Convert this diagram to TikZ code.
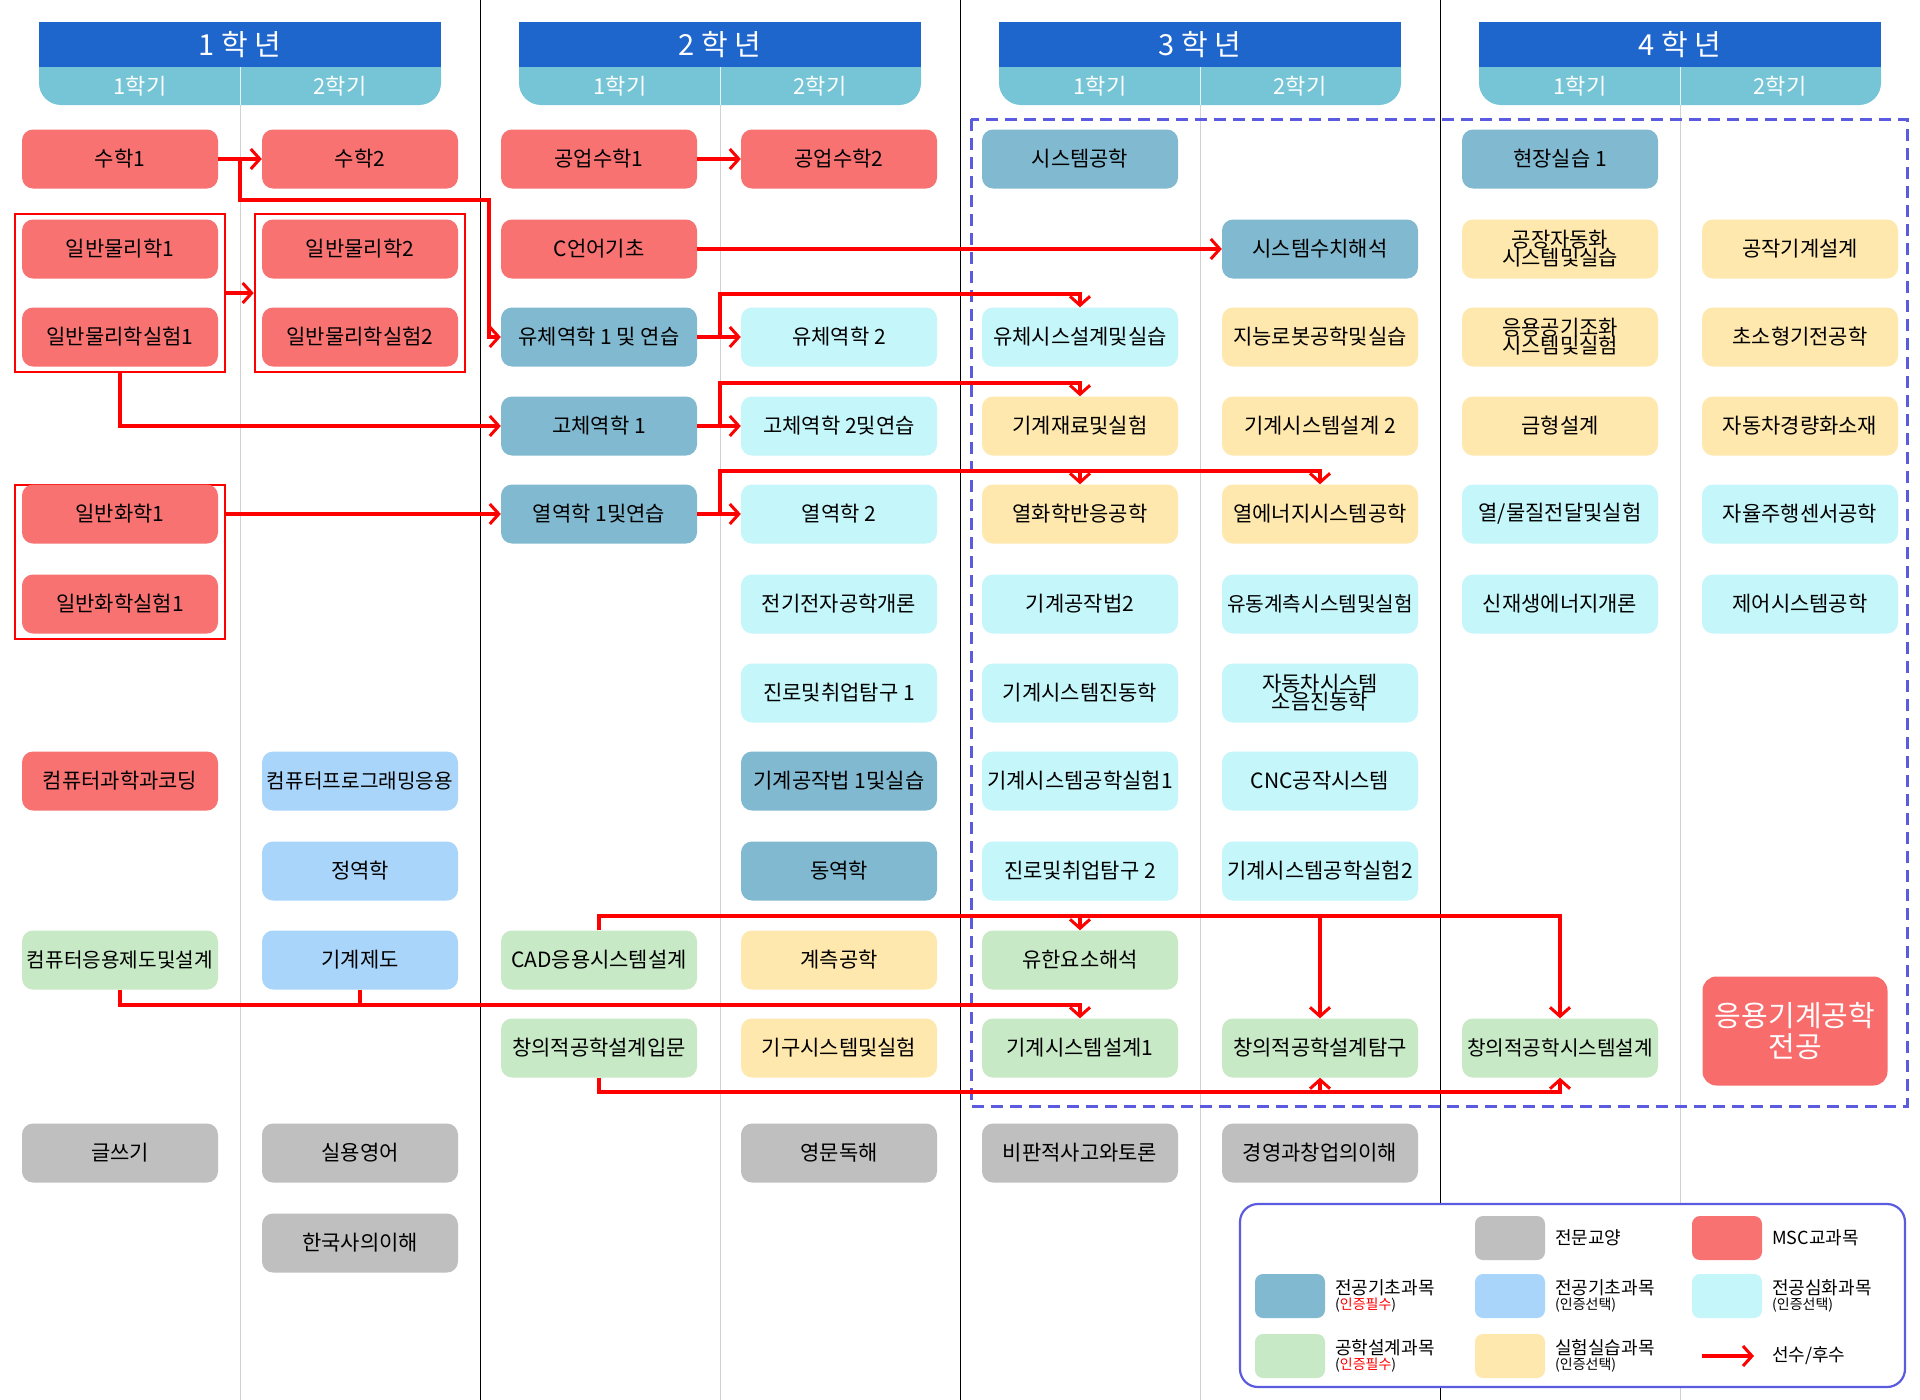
\documentclass[tikz,border=0pt]{standalone}
\usepackage{fontspec}
\usepackage{graphicx}
\setmainfont{Noto Sans CJK KR}
\usetikzlibrary{arrows.meta}
\definecolor{msc}{HTML}{F87272}
\definecolor{dblu}{HTML}{80B9D0}
\definecolor{lblu}{HTML}{AAD5FA}
\definecolor{cyn}{HTML}{C4F6FA}
\definecolor{grn}{HTML}{C7E9C6}
\definecolor{yel}{HTML}{FFE8AD}
\definecolor{gry}{HTML}{BFBFBF}
\definecolor{hblu}{HTML}{1F66CC}
\definecolor{hlt}{HTML}{75C5D7}
\definecolor{dashblu}{HTML}{5B5BE0}
\definecolor{arrred}{HTML}{FF0000}
\newcommand\fitw[1]{\sbox0{#1}\ifdim\wd0>186pt\resizebox{186pt}{!}{#1}\else#1\fi}
\tikzset{
 boxbase/.style={rounded corners=11pt, minimum width=196pt, minimum height=59pt, inner sep=0pt, align=center, font=\fontsize{21}{21}\selectfont},
 boxmsc/.style={boxbase, fill=msc}, boxdb/.style={boxbase, fill=dblu}, boxlb/.style={boxbase, fill=lblu},
 boxcy/.style={boxbase, fill=cyn}, boxgn/.style={boxbase, fill=grn}, boxye/.style={boxbase, fill=yel}, boxgr/.style={boxbase, fill=gry},
 redarr/.style={draw=arrred, line width=3.2pt, -{Straight Barb[length=9pt,width=20pt,line width=3pt]}},
 redln/.style={draw=arrred, line width=3.2pt},
 redgrp/.style={draw=arrred, line width=2.6pt, inner sep=0pt},
 legsw/.style={rounded corners=8pt, minimum width=70pt, minimum height=44pt, inner sep=0pt},
 legtxt/.style={anchor=west, align=left, inner sep=0pt, font=\fontsize{18}{18}\selectfont},
}
\newcommand\two[2]{#1\\[-3pt]#2}
\begin{document}
\begin{tikzpicture}[x=1pt,y=-1pt]
\useasboundingbox (0,0) rectangle (1920,1400);
\fill[white] (0,0) rectangle (1920,1400);
% column lines
\foreach \x in {240,720,1200,1680} \draw[gray!35, line width=0.8pt] (\x,105) -- (\x,1400);
\foreach \x in {480,960,1440} \draw[black, line width=1pt] (\x,0) -- (\x,1400);
% headers
\foreach \c/\t in {240/1,720/2,1200/3,1680/4}{
  \fill[hlt, rounded corners=22pt] (\c-201,50) rectangle (\c+201,105);
  \fill[hlt] (\c-201,50) rectangle (\c+201,80);
  \fill[hblu] (\c-201,22) rectangle (\c+201,67);
  \draw[white!80!hlt, line width=0.8pt] (\c,67) -- (\c,105);
  \node[white, font=\fontsize{29}{29}\selectfont] (y\t) at (\c,45) {\t\ 학\ 년};
  \node[white, font=\fontsize{22}{22}\selectfont] (s\t a) at (\c-100,86) {1학기};
  \node[white, font=\fontsize{22}{22}\selectfont] (s\t b) at (\c+100,86) {2학기};
}
% dashed region
\draw[dashblu, line width=3pt, dash pattern=on 12pt off 7pt] (971,119) rectangle (1907,1106);
% group boxes
\node[redgrp, minimum width=210pt, minimum height=158pt] (pg1) at (120,293) {};
\node[redgrp, minimum width=210pt, minimum height=158pt] (pg2) at (360,293) {};
\node[redgrp, minimum width=210pt, minimum height=154pt] (chg) at (120,562) {};
% column 1
\node[boxmsc] (m1) at (120,159) {수학1};
\node[boxmsc] (p1) at (120,249) {일반물리학1};
\node[boxmsc] (pl1) at (120,337) {일반물리학실험1};
\node[boxmsc] (c1) at (120,514) {일반화학1};
\node[boxmsc] (cl1) at (120,604) {일반화학실험1};
\node[boxmsc] (csc) at (120,781) {\fitw{컴퓨터과학과코딩}};
\node[boxgn] (cad1) at (120,960) {\fitw{컴퓨터응용제도및설계}};
\node[boxgr] (w) at (120,1153) {글쓰기};
% column 2
\node[boxmsc] (m2) at (360,159) {수학2};
\node[boxmsc] (p2) at (360,249) {일반물리학2};
\node[boxmsc] (pl2) at (360,337) {일반물리학실험2};
\node[boxlb] (cp) at (360,781) {\fitw{컴퓨터프로그래밍응용}};
\node[boxlb] (st) at (360,871) {정역학};
\node[boxlb] (md) at (360,960) {기계제도};
\node[boxgr] (pe) at (360,1153) {실용영어};
\node[boxgr] (kh) at (360,1243) {한국사의이해};
% column 3
\node[boxmsc] (e1) at (599,159) {공업수학1};
\node[boxmsc] (cb) at (599,249) {C언어기초};
\node[boxdb] (f1) at (599,337) {\fitw{유체역학 1 및 연습}};
\node[boxdb] (s1) at (599,426) {고체역학 1};
\node[boxdb] (t1) at (599,514) {열역학 1및연습};
\node[boxgn] (cad) at (599,960) {\fitw{CAD응용시스템설계}};
\node[boxgn] (ci) at (599,1048) {\fitw{창의적공학설계입문}};
% column 4
\node[boxmsc] (e2) at (839,159) {공업수학2};
\node[boxcy] (f2) at (839,337) {유체역학 2};
\node[boxcy] (s2) at (839,426) {\fitw{고체역학 2및연습}};
\node[boxcy] (t2) at (839,514) {열역학 2};
\node[boxcy] (ee) at (839,604) {\fitw{전기전자공학개론}};
\node[boxcy] (cr1) at (839,693) {\fitw{진로및취업탐구 1}};
\node[boxdb] (mf1) at (839,781) {\fitw{기계공작법 1및실습}};
\node[boxdb] (dy) at (839,871) {동역학};
\node[boxye] (mes) at (839,960) {계측공학};
\node[boxye] (mech) at (839,1048) {\fitw{기구시스템및실험}};
\node[boxgr] (er) at (839,1153) {영문독해};
% column 5
\node[boxdb] (se) at (1080,159) {시스템공학};
\node[boxcy] (fs) at (1080,337) {\fitw{유체시스설계및실습}};
\node[boxye] (mat) at (1080,426) {\fitw{기계재료및실험}};
\node[boxye] (tc) at (1080,514) {\fitw{열화학반응공학}};
\node[boxcy] (mf2) at (1080,604) {기계공작법2};
\node[boxcy] (vib) at (1080,693) {\fitw{기계시스템진동학}};
\node[boxcy] (lab1) at (1080,781) {\fitw{기계시스템공학실험1}};
\node[boxcy] (cr2) at (1080,871) {\fitw{진로및취업탐구 2}};
\node[boxgn] (fe) at (1080,960) {유한요소해석};
\node[boxgn] (ms1) at (1080,1048) {\fitw{기계시스템설계1}};
\node[boxgr] (ct1) at (1080,1153) {\fitw{비판적사고와토론}};
% column 6
\node[boxdb] (na) at (1320,249) {\fitw{시스템수치해석}};
\node[boxye] (rb) at (1320,337) {\fitw{지능로봇공학및실습}};
\node[boxye] (ms2) at (1320,426) {\fitw{기계시스템설계 2}};
\node[boxye] (te) at (1320,514) {\fitw{열에너지시스템공학}};
\node[boxcy] (fm) at (1320,604) {\fitw{유동계측시스템및실험}};
\node[boxcy] (av) at (1320,693) {\two{자동차시스템}{소음진동학}};
\node[boxcy] (cnc) at (1320,781) {CNC공작시스템};
\node[boxcy] (lab2) at (1320,871) {\fitw{기계시스템공학실험2}};
\node[boxgn] (ct) at (1320,1048) {\fitw{창의적공학설계탐구}};
\node[boxgr] (bm) at (1320,1153) {\fitw{경영과창업의이해}};
% column 7
\node[boxdb] (ip) at (1560,159) {현장실습 1};
\node[boxye] (fa) at (1560,249) {\two{공장자동화}{시스템및실습}};
\node[boxye] (ac) at (1560,337) {\two{응용공기조화}{시스템및실험}};
\node[boxye] (md2) at (1560,426) {금형설계};
\node[boxcy] (ht) at (1560,514) {\fitw{열/물질전달및실험}};
\node[boxcy] (re) at (1560,604) {\fitw{신재생에너지개론}};
\node[boxgn] (cs2) at (1560,1048) {\fitw{창의적공학시스템설계}};
% column 8
\node[boxye] (mtd) at (1800,249) {공작기계설계};
\node[boxye] (mm) at (1800,337) {\fitw{초소형기전공학}};
\node[boxye] (lw) at (1800,426) {\fitw{자동차경량화소재}};
\node[boxcy] (asn) at (1800,514) {\fitw{자율주행센서공학}};
\node[boxcy] (ctl) at (1800,604) {\fitw{제어시스템공학}};
\node[boxbase, fill=msc!95!red, minimum width=185pt, minimum height=109pt, rounded corners=14pt, text=white, font=\fontsize{29}{31}\selectfont] (major) at (1795,1031) {응용기계공학\\전공};
% arrows
\draw[redarr] (m1) -- (m2);
\draw[redarr] (m1.east) -- (240,159) -- (240,200) -- (489,200) |- (f1.west);
\draw[redarr] (pg1) -- (pg2);
\draw[redarr] (pg1.south) |- (s1.west);
\draw[redarr] (chg.east |- t1) -- (t1.west);
\draw[redarr] (e1) -- (e2);
\draw[redarr] (cb) -- (na);
\draw[redarr] (f1) -- (f2);
\draw[redarr] (f1.east) -- (720,337) -- (720,294) -| (fs.north);
\draw[redarr] (s1) -- (s2);
\draw[redarr] (s1.east) -- (720,426) -- (720,383) -| (mat.north);
\draw[redarr] (t1) -- (t2);
\draw[redarr] (t1.east) -- (720,514) -- (720,471) -| (te.north);
\draw[redarr] (1080,471) -- (tc.north);
\draw[redarr] (cad.north) -- (599,916) -| (cs2.north);
\draw[redarr] (1080,916) -- (fe.north);
\draw[redarr] (1320,916) -- (ct.north);
\draw[redarr] (cad1.south) |- (360,1005) -| (ms1.north);
\draw[redln] (md.south) -- (360,1005);
\draw[redarr] (ci.south) -- (599,1092) -| (cs2.south);
\draw[redarr] (1320,1092) -- (ct.south);
% legend
\draw[dashblu, line width=2.2pt, rounded corners=18pt, fill=white] (1240,1204) rectangle (1905,1387);
\node[legsw, fill=gry] (lg1) at (1510,1238) {};
\node[legtxt] (lt1) at (1555,1238) {전문교양};
\node[legsw, fill=msc] (lg2) at (1727,1238) {};
\node[legtxt] (lt2) at (1772,1238) {MSC교과목};
\node[legsw, fill=dblu] (lg3) at (1290,1296) {};
\node[legtxt] (lt3) at (1335,1296) {전공기초과목\\[-3pt]{\fontsize{14}{14}\selectfont(\textcolor{red}{인증필수})}};
\node[legsw, fill=lblu] (lg4) at (1510,1296) {};
\node[legtxt] (lt4) at (1555,1296) {전공기초과목\\[-3pt]{\fontsize{14}{14}\selectfont(인증선택)}};
\node[legsw, fill=cyn] (lg5) at (1727,1296) {};
\node[legtxt] (lt5) at (1772,1296) {전공심화과목\\[-3pt]{\fontsize{14}{14}\selectfont(인증선택)}};
\node[legsw, fill=grn] (lg6) at (1290,1356) {};
\node[legtxt] (lt6) at (1335,1356) {공학설계과목\\[-3pt]{\fontsize{14}{14}\selectfont(\textcolor{red}{인증필수})}};
\node[legsw, fill=yel] (lg7) at (1510,1356) {};
\node[legtxt] (lt7) at (1555,1356) {실험실습과목\\[-3pt]{\fontsize{14}{14}\selectfont(인증선택)}};
\coordinate (la) at (1702,1356);
\coordinate (lb) at (1754,1356);
\draw[redarr] (la) -- (lb);
\node[legtxt] (lt8) at (1772,1356) {선수/후수};
\end{tikzpicture}
\end{document}
